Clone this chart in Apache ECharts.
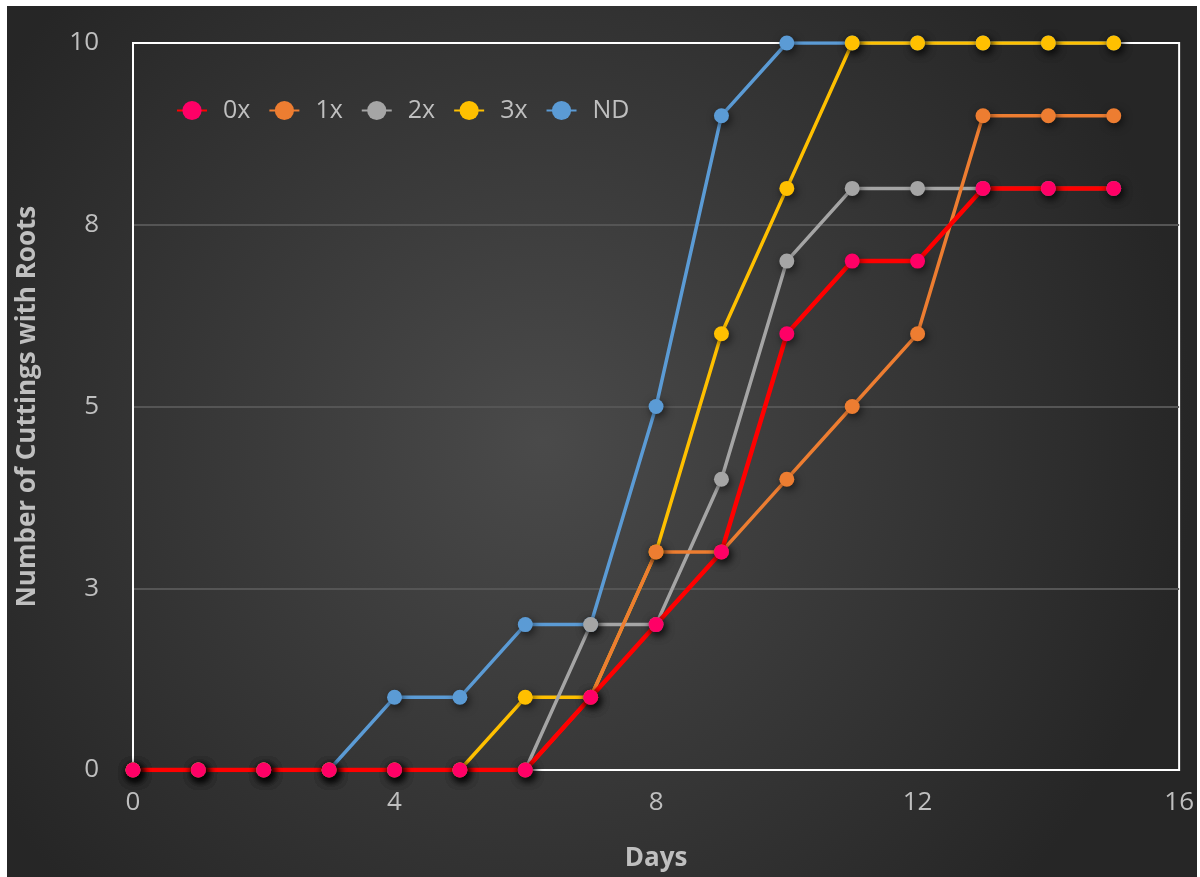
<!DOCTYPE html>
<html>
<head>
<meta charset="utf-8">
<script src="https://cdn.jsdelivr.net/npm/echarts@6/dist/echarts.min.js"></script>
<style>
  html, body { margin: 0; padding: 0; background: #ffffff; }
  #chart { position: absolute; left: 7px; top: 6px; width: 1190px; height: 871px; }
</style>
</head>
<body>
<div id="chart"></div>
<script>
const days = [0, 1, 2, 3, 4, 5, 6, 7, 8, 9, 10, 11, 12, 13, 14, 15]
const rooted0x = [0, 0, 0, 0, 0, 0, 0, 1, 2, 3, 6, 7, 7, 8, 8, 8]
const rooted1x = [0, 0, 0, 0, 0, 0, 0, 1, 3, 3, 4, 5, 6, 9, 9, 9]
const rooted2x = [0, 0, 0, 0, 0, 0, 0, 2, 2, 4, 7, 8, 8, 8, 8, 8]
const rooted3x = [0, 0, 0, 0, 0, 0, 1, 1, 3, 6, 8, 10, 10, 10, 10, 10]
const rootedND = [0, 0, 0, 0, 1, 1, 2, 2, 5, 9, 10, 10, 10, 10, 10, 10]
const legendNames = ['0x', '1x', '2x', '3x', 'ND']

const textColor = '#bfbfbf'
const font = '"Open Sans", Lato, sans-serif'

function pairs(values) {
  return days.map((d, i) => [d, values[i]])
}

// later series are drawn on top, so list them from ND back to 0x
function makeSeries(name, values, lineColor, markColor, width) {
  return {
    name: name,
    type: 'line',
    data: pairs(values),
    symbol: 'circle',
    symbolSize: 15,
    lineStyle: { color: lineColor, width: width },
    itemStyle: {
      color: markColor,
      shadowBlur: 8,
      shadowOffsetX: 2,
      shadowOffsetY: 3,
      shadowColor: 'rgba(0, 0, 0, 0.6)'
    },
    emphasis: { disabled: true }
  }
}

const chart = echarts.init(document.getElementById('chart'), null, { renderer: 'canvas' })

chart.setOption({
  animation: false,
  backgroundColor: {
    type: 'radial',
    x: 0.45,
    y: 0.5,
    r: 0.75,
    colorStops: [
      { offset: 0, color: '#4a4a4a' },
      { offset: 1, color: '#262626' }
    ]
  },
  textStyle: { fontFamily: font },
  legend: {
    data: legendNames,
    left: 164,
    top: 87,
    itemWidth: 30,
    itemHeight: 24,
    itemGap: 18,
    textStyle: { color: textColor, fontSize: 25, fontFamily: font, padding: [0, 0, 0, 11] }
  },
  grid: {
    left: 123,
    top: 37,
    width: 1050,
    height: 729,
    show: true,
    borderColor: '#ffffff',
    borderWidth: 2,
    backgroundColor: 'transparent'
  },
  xAxis: {
    type: 'value',
    min: 0,
    max: 16,
    interval: 4,
    name: 'Days',
    nameLocation: 'middle',
    nameGap: 76,
    nameTextStyle: { color: textColor, fontSize: 26, fontWeight: 'bold', fontFamily: font },
    axisLine: { show: true, lineStyle: { color: '#ffffff', width: 2 } },
    axisTick: { show: false },
    splitLine: { show: false },
    axisLabel: { color: textColor, fontSize: 26, margin: 20, fontFamily: font }
  },
  yAxis: {
    type: 'value',
    min: 0,
    max: 10,
    interval: 2.5,
    name: 'Number of Cuttings with Roots',
    nameLocation: 'middle',
    nameGap: 92,
    nameTextStyle: { color: textColor, fontSize: 26, fontWeight: 'bold', fontFamily: font },
    axisLine: { show: true, lineStyle: { color: '#ffffff', width: 2 } },
    axisTick: { show: false },
    splitLine: {
      show: true,
      lineStyle: { color: ['transparent', '#555555', '#555555', '#555555', 'transparent'], width: 2 }
    },
    axisLabel: {
      color: textColor,
      fontSize: 26,
      margin: 34,
      fontFamily: font,
      formatter: (v) => String(Math.round(v))
    }
  },
  series: [
    makeSeries('ND', rootedND, '#5b9bd5', '#5b9bd5', 3.5),
    makeSeries('3x', rooted3x, '#ffc000', '#ffc000', 3.5),
    makeSeries('2x', rooted2x, '#a5a5a5', '#a5a5a5', 3.5),
    makeSeries('1x', rooted1x, '#ed7d31', '#ed7d31', 3.5),
    makeSeries('0x', rooted0x, '#ff0000', '#ff0066', 4.5)
  ]
})
</script>
</body>
</html>
